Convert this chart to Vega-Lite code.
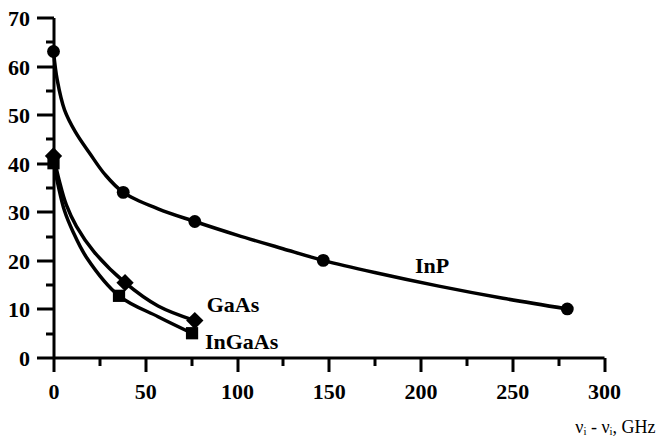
{
  "$schema": "https://vega.github.io/schema/vega-lite/v6.json",
  "width": 550.5,
  "height": 340,
  "autosize": {"type": "none"},
  "padding": {"left": 53.5, "top": 17.5, "right": 54, "bottom": 83.5},
  "background": "white",
  "config": {
    "view": {"stroke": null},
    "axis": {
      "grid": false,
      "domainColor": "black",
      "domainWidth": 3,
      "tickColor": "black",
      "tickWidth": 3,
      "labelFont": "Liberation Serif",
      "labelFontWeight": "bold",
      "labelFontSize": 22,
      "labelColor": "black",
      "labelFlush": false,
      "labelOverlap": false,
      "titleFont": "Liberation Serif",
      "titleColor": "black"
    }
  },
  "datasets": {
    "curves": [
      {"series": "InP", "x": 0, "y": 63},
      {"series": "InP", "x": 2, "y": 57.2},
      {"series": "InP", "x": 6, "y": 51},
      {"series": "InP", "x": 12, "y": 46.4},
      {"series": "InP", "x": 20, "y": 41.9},
      {"series": "InP", "x": 28, "y": 37.7},
      {"series": "InP", "x": 38, "y": 34},
      {"series": "InP", "x": 57, "y": 30.6},
      {"series": "InP", "x": 77, "y": 28},
      {"series": "InP", "x": 100, "y": 25.2},
      {"series": "InP", "x": 125, "y": 22.4},
      {"series": "InP", "x": 147, "y": 20},
      {"series": "InP", "x": 175, "y": 17.5},
      {"series": "InP", "x": 210, "y": 14.7},
      {"series": "InP", "x": 245, "y": 12.2},
      {"series": "InP", "x": 280, "y": 10},
      {"series": "GaAs", "x": 0, "y": 41.5},
      {"series": "GaAs", "x": 3, "y": 36.6},
      {"series": "GaAs", "x": 7, "y": 31.4},
      {"series": "GaAs", "x": 12.5, "y": 27},
      {"series": "GaAs", "x": 22, "y": 21.8},
      {"series": "GaAs", "x": 39, "y": 15.4},
      {"series": "GaAs", "x": 57, "y": 10.6},
      {"series": "GaAs", "x": 77, "y": 7.6},
      {"series": "InGaAs", "x": 0, "y": 40},
      {"series": "InGaAs", "x": 2.5, "y": 35.5},
      {"series": "InGaAs", "x": 6, "y": 30.2},
      {"series": "InGaAs", "x": 10.5, "y": 26},
      {"series": "InGaAs", "x": 18, "y": 20.6},
      {"series": "InGaAs", "x": 35.7, "y": 12.7},
      {"series": "InGaAs", "x": 57, "y": 8.4},
      {"series": "InGaAs", "x": 75.5, "y": 5}
    ],
    "points": [
      {"series": "InP", "x": 0, "y": 63},
      {"series": "InP", "x": 38, "y": 34},
      {"series": "InP", "x": 77, "y": 28},
      {"series": "InP", "x": 147, "y": 20},
      {"series": "InP", "x": 280, "y": 10},
      {"series": "GaAs", "x": 0, "y": 41.5},
      {"series": "GaAs", "x": 39, "y": 15.4},
      {"series": "GaAs", "x": 77, "y": 7.6},
      {"series": "InGaAs", "x": 0, "y": 40},
      {"series": "InGaAs", "x": 35.7, "y": 12.7},
      {"series": "InGaAs", "x": 75.5, "y": 5}
    ],
    "labels": [
      {"label": "InP", "x": 197, "y": 17.4},
      {"label": "GaAs", "x": 83.5, "y": 9.4},
      {"label": "InGaAs", "x": 82.5, "y": 1.7}
    ]
  },
  "resolve": {"axis": {"x": "independent", "y": "independent"}},
  "layer": [
    {
      "data": {"name": "curves"},
      "mark": {"type": "line", "interpolate": "catmull-rom", "color": "black", "strokeWidth": 3.5},
      "encoding": {
        "x": {"field": "x", "type": "quantitative", "scale": {"domain": [0, 300], "nice": false, "zero": false},
              "axis": {"orient": "bottom", "values": [25, 75, 125, 175, 225, 275], "labels": false, "domain": false, "tickSize": 8, "title": null}},
        "y": {"field": "y", "type": "quantitative", "scale": {"domain": [0, 70], "nice": false, "zero": false},
              "axis": {"orient": "left", "values": [5, 15, 25, 35, 45, 55, 65], "labels": false, "domain": false, "tickSize": 8, "title": null}},
        "detail": {"field": "series"}
      }
    },
    {
      "data": {"name": "points"},
      "transform": [{"filter": "datum.series === 'InP'"}],
      "mark": {"type": "point", "shape": "circle", "filled": true, "color": "black", "opacity": 1, "size": 165},
      "encoding": {
        "x": {"field": "x", "type": "quantitative",
              "axis": {"orient": "bottom", "values": [0, 50, 100, 150, 200, 250, 300], "tickSize": 14, "labelPadding": 10,
                       "labelFont": "Liberation Serif", "labelFontWeight": "bold", "labelFontSize": 22, "labelColor": "black", "labelFlush": false,
                       "title": "νᵢ - νᵢ, GHz", "titleFont": "Liberation Serif", "titleFontSize": 18, "titleFontWeight": "normal", "titleAlign": "right",
                       "titleAnchor": "end", "titleX": 601.5, "titleY": 74.5, "titleBaseline": "alphabetic", "titleColor": "black"}},
        "y": {"field": "y", "type": "quantitative",
              "axis": {"orient": "left", "values": [0, 10, 20, 30, 40, 50, 60, 70], "tickSize": 17, "labelPadding": 7, "labelFlush": false,
                       "labelFont": "Liberation Serif", "labelFontWeight": "bold", "labelFontSize": 22, "labelColor": "black", "labelOffset": 1, "title": null}}
      }
    },
    {
      "data": {"name": "points"},
      "transform": [{"filter": "datum.series === 'GaAs'"}],
      "mark": {"type": "point", "shape": "diamond", "filled": true, "color": "black", "opacity": 1, "size": 300},
      "encoding": {
        "x": {"field": "x", "type": "quantitative", "axis": null},
        "y": {"field": "y", "type": "quantitative", "axis": null}
      }
    },
    {
      "data": {"name": "points"},
      "transform": [{"filter": "datum.series === 'InGaAs'"}],
      "mark": {"type": "point", "shape": "square", "filled": true, "color": "black", "opacity": 1, "size": 150},
      "encoding": {
        "x": {"field": "x", "type": "quantitative", "axis": null},
        "y": {"field": "y", "type": "quantitative", "axis": null}
      }
    },
    {
      "data": {"name": "labels"},
      "mark": {"type": "text", "font": "Liberation Serif", "fontWeight": "bold", "fontSize": 22, "align": "left", "baseline": "alphabetic", "color": "black"},
      "encoding": {
        "x": {"field": "x", "type": "quantitative", "axis": null},
        "y": {"field": "y", "type": "quantitative", "axis": null},
        "text": {"field": "label"}
      }
    }
  ]
}
